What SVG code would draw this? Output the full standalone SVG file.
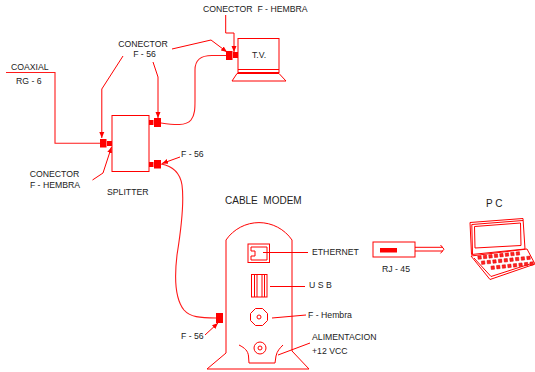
<svg xmlns="http://www.w3.org/2000/svg" width="535" height="372" viewBox="0 0 535 372">
  <style>
    .ln { fill: none; stroke: #ff0000; stroke-width: 1; }
    .cab { fill: none; stroke: #ff1a1a; stroke-width: 1.1; }
    .sol { fill: #ff0000; stroke: none; }
    .lbl { font-family: "Liberation Sans", Arial, sans-serif; font-size: 8.7px; fill: #222; white-space: pre; }
    .big { font-size: 10px; }
    .key { fill: #ff2020; stroke: #e00000; stroke-width: 0.5; }
  </style>
  <defs>
    <marker id="arr" markerUnits="userSpaceOnUse" markerWidth="7" markerHeight="6" refX="6" refY="3" orient="auto">
      <path d="M0,0.5 L6,3 L0,5.5 Z" fill="#ff0000"/>
    </marker>
  </defs>

  <rect width="535" height="372" fill="#ffffff"/>

  <!-- coaxial input -->
  <g id="coaxial">
    <text class="lbl" x="11" y="69.5">COAXIAL</text>
    <text class="lbl" x="16" y="84">RG - 6</text>
  </g>

  <!-- splitter with its three connectors -->
  <g id="splitter">
    <rect class="ln" x="112" y="115.5" width="37" height="56"/>
    <rect class="sol" x="100" y="139" width="6.5" height="8.5"/>
    <rect class="sol" x="107" y="141" width="5" height="5"/>
    <rect class="sol" x="149" y="120" width="4.5" height="5"/>
    <rect class="sol" x="154" y="118" width="7" height="9"/>
    <rect class="sol" x="149" y="162" width="4.5" height="5"/>
    <rect class="sol" x="154" y="160" width="7" height="8.5"/>
    <text class="lbl" x="107" y="195">SPLITTER</text>
  </g>

  <!-- television -->
  <g id="tv">
    <rect class="ln" x="238" y="38.5" width="41" height="34"/>
    <line class="ln" x1="238" y1="69.5" x2="279" y2="69.5"/>
    <path class="ln" d="M237,73.5 L279,73.5 L286,81 L232,81 Z"/>
    <rect class="sol" x="226" y="51" width="6.5" height="9"/>
    <rect class="sol" x="233" y="52" width="5" height="6"/>
    <text class="lbl" x="252" y="57.5">T.V.</text>
  </g>

  <!-- cable modem -->
  <g id="cable-modem">
    <text class="lbl big" x="225" y="203.5" xml:space="preserve">CABLE  MODEM</text>
    <path class="ln" d="M207,369 L226,353 L226,240 A40,40 0 0 1 292,240 L292,351 L309,369 Z"/>
    <!-- ethernet port -->
    <rect class="ln" x="248" y="244" width="21.5" height="18.5"/>
    <path class="ln" d="M251,247 L267,247 L267,260 L251,260 L251,256 L255,256 L255,251 L251,251 Z"/>
    <!-- usb port -->
    <rect class="ln" x="251.5" y="274.5" width="15.5" height="22.5"/>
    <line class="ln" x1="254.5" y1="274.5" x2="254.5" y2="297"/>
    <line class="ln" x1="257" y1="274.5" x2="257" y2="297"/>
    <line class="ln" x1="262" y1="274.5" x2="262" y2="297"/>
    <line class="ln" x1="264.5" y1="274.5" x2="264.5" y2="297"/>
    <!-- f-hembra port -->
    <polygon class="ln" points="262.5,308.5 267.5,313.5 267.5,320.5 262.5,325.5 255.5,325.5 250.5,320.5 250.5,313.5 255.5,308.5"/>
    <circle class="ln" cx="259" cy="317" r="2"/>
    <!-- power jack and recess -->
    <circle class="ln" cx="260" cy="348" r="6"/>
    <circle class="ln" cx="260" cy="348" r="2"/>
    <path class="ln" d="M239,345 C245,348 248,351 248.5,356 L249,363 L275,363 L276,356 C277,351 280,348 283,345"/>
    <!-- f-56 on modem -->
    <rect class="sol" x="216" y="313" width="7" height="10"/>
    <text class="lbl" x="312" y="255">ETHERNET</text>
    <text class="lbl" x="309" y="288">U S B</text>
    <text class="lbl" x="308" y="318">F - Hembra</text>
    <text class="lbl" x="312" y="340">ALIMENTACION</text>
    <text class="lbl" x="312" y="354">+12 VCC</text>
  </g>

  <!-- rj-45 plug -->
  <g id="rj45">
    <rect class="ln" x="373" y="242" width="42" height="15" stroke-width="1.2"/>
    <rect class="sol" x="380" y="248" width="17" height="4.5"/>
    <line class="ln" x1="415" y1="247.3" x2="443" y2="247.3"/>
    <line class="ln" x1="415" y1="251" x2="443" y2="251"/>
    <polyline class="ln" points="440.5,245 444,249.2 440.5,253.4"/>
    <text class="lbl" x="382" y="272">RJ - 45</text>
  </g>

  <!-- laptop pc -->
  <g id="pc">
    <text class="lbl big" x="486" y="206.5">P C</text>
    <polygon class="ln" points="470,222.5 523,218.5 525,249 471.5,254.5"/>
    <polyline class="ln" points="472.5,254 471.8,224.5 523,220.5"/>
    <polygon class="ln" points="474.5,226.5 520.5,223 521,245.5 475,248"/>
    <polygon class="ln" points="471,256 527,249 535,264 490,279.5"/>
    <polyline class="ln" points="474,258 491,276.5 533,263"/>
    <g transform="rotate(-6 478 258)">
      <rect class="key" x="478" y="256" width="3.3" height="3.3"/>
      <rect class="key" x="483.5" y="256" width="3.3" height="3.3"/>
      <rect class="key" x="489" y="256" width="3.3" height="3.3"/>
      <rect class="key" x="494.5" y="256" width="3.3" height="3.3"/>
      <rect class="key" x="500" y="256" width="3.3" height="3.3"/>
      <rect class="key" x="505.5" y="256" width="3.3" height="3.3"/>
      <rect class="key" x="511" y="256" width="3.3" height="3.3"/>
      <rect class="key" x="516.5" y="256" width="3.3" height="3.3"/>
      <rect class="key" x="481" y="261.5" width="3.3" height="3.3"/>
      <rect class="key" x="486.7" y="261.5" width="3.3" height="3.3"/>
      <rect class="key" x="492.4" y="261.5" width="3.3" height="3.3"/>
      <rect class="key" x="498.1" y="261.5" width="3.3" height="3.3"/>
      <rect class="key" x="503.8" y="261.5" width="3.3" height="3.3"/>
      <rect class="key" x="509.5" y="261.5" width="3.3" height="3.3"/>
      <rect class="key" x="515.2" y="261.5" width="3.3" height="3.3"/>
      <rect class="key" x="520.9" y="261.5" width="3.3" height="3.3"/>
      <rect class="key" x="526.6" y="261.5" width="3.3" height="3.3"/>
      <rect class="key" x="490" y="267.5" width="3.3" height="3.3"/>
      <rect class="key" x="495.6" y="267.5" width="3.3" height="3.3"/>
      <rect class="key" x="501.2" y="267.5" width="3.3" height="3.3"/>
      <rect class="key" x="506.8" y="267.5" width="3.3" height="3.3"/>
      <rect class="key" x="512.4" y="267.5" width="3.3" height="3.3"/>
      <rect class="key" x="518" y="267.5" width="3.3" height="3.3"/>
      <rect class="key" x="523.6" y="267.5" width="3.3" height="3.3"/>
      <rect class="key" x="529.2" y="267.5" width="3.3" height="3.3"/>
    </g>
  </g>

  <!-- connector callouts -->
  <g id="callouts">
    <text class="lbl" x="203" y="12" xml:space="preserve">CONECTOR  F - HEMBRA</text>
    <text class="lbl" x="143" y="46.5" text-anchor="middle">CONECTOR</text>
    <text class="lbl" x="144.5" y="56.5" text-anchor="middle">F - 56</text>
    <text class="lbl" x="54.5" y="177" text-anchor="middle">CONECTOR</text>
    <text class="lbl" x="55" y="188" text-anchor="middle">F - HEMBRA</text>
    <text class="lbl" x="181" y="157">F - 56</text>
    <text class="lbl" x="181" y="339">F - 56</text>
  </g>

  <!-- cables and leader lines -->
  <g id="connectors">
    <polyline class="cab" points="6,72.5 55,72.5 55,143.3 100,143.3"/>
    <path class="cab" d="M161,123 C175,125 186,126 191,120 C195,115 195,108 195,100 L195,70 C195,60 200,55.5 212,55.5 L226,55.5"/>
    <path class="cab" d="M161,164 C172,166 180,172 182,185 C184,200 181,230 177,255 C174,280 176,300 184,310 C190,317 200,318 216,318"/>
    <polyline class="ln" points="123,56 101.8,89 101.8,138" marker-end="url(#arr)"/>
    <polyline class="ln" points="153,62 158,77 158,118" marker-end="url(#arr)"/>
    <polyline class="ln" points="172,49 211,40 227,52" marker-end="url(#arr)"/>
    <polyline class="ln" points="225.7,15 225.7,33 234,33 234,52" marker-end="url(#arr)"/>
    <polyline class="ln" points="92.5,180 103,173 111.5,147" marker-end="url(#arr)"/>
    <line class="ln" x1="180" y1="157" x2="162" y2="163.5" marker-end="url(#arr)"/>
    <line class="ln" x1="205" y1="335" x2="218" y2="323" marker-end="url(#arr)"/>
    <line class="ln" x1="263" y1="252.5" x2="308" y2="252.5"/>
    <line class="ln" x1="270" y1="286.5" x2="305" y2="286.5"/>
    <line class="ln" x1="272" y1="318" x2="306" y2="315"/>
    <line class="ln" x1="278" y1="355" x2="310" y2="343"/>
  </g>
</svg>
